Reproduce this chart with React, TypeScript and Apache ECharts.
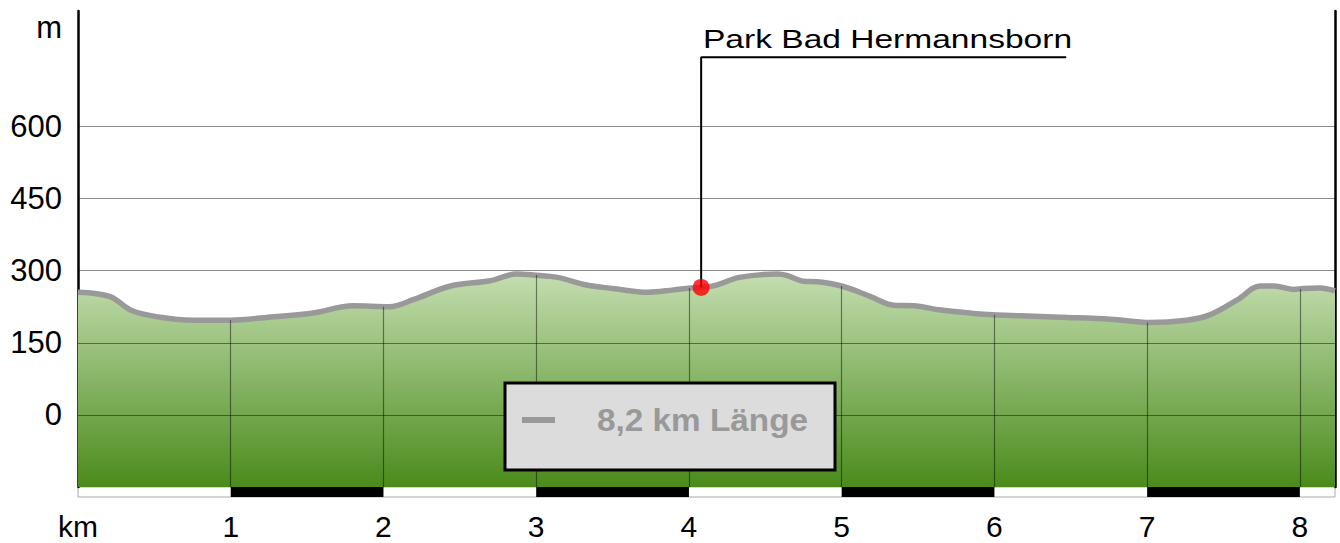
import { useEffect, useRef } from 'react';
import * as echarts from 'echarts';

// Elevation profile (km, metres)
const profileKm = [0, 0.21, 0.35, 0.54, 0.75, 1.0, 1.28, 1.54, 1.8, 2.04, 2.19, 2.44, 2.7, 2.87, 2.98, 3.14, 3.33, 3.5, 3.73, 3.9, 4.01, 4.08, 4.18, 4.33, 4.58, 4.64, 4.75, 4.84, 5.0, 5.19, 5.34, 5.47, 5.65, 5.86, 5.99, 6.17, 6.43, 6.76, 7.02, 7.26, 7.41, 7.59, 7.74, 7.83, 7.96, 8.02, 8.13, 8.23];
const profileElev = [255, 246, 217, 203, 197, 197, 204, 212, 227, 225, 239, 268, 279, 293, 291, 286, 270, 263, 255, 260, 264, 265, 270, 286, 293, 290, 278, 277, 268, 246, 228, 227, 218, 211, 208, 206, 203, 199, 192, 197, 208, 239, 268, 268, 261, 263, 264, 258];

// km marks and the elevation under each
const kmMarks = [1, 2, 3, 4, 5, 6, 7, 8];
const kmMarkElev = [197, 225, 291, 264, 268, 208, 192, 262];

// horizontal grid values
const yGridValues = [0, 150, 300, 450, 600];

// scale bar black segments
const stripSegments = [[1, 2], [3, 4], [5, 6], [7, 8]];

// point of interest
const poiName = 'Park Bad Hermannsborn';
const poiKm = 4.08;
const poiElev = 265;
const leaderTopElev = 744;
const leaderEndKm = 6.47;

const legendText = '8,2 km Länge';

const Y_MIN = -150;
const Y_MAX = 840;
const X_MAX = 8.23;
const FONT = '"Liberation Sans", Arial, sans-serif';

export default function App() {
  const ref = useRef<HTMLDivElement>(null);
  useEffect(() => {
    if (!ref.current) return;
    const chart = echarts.init(ref.current, undefined, { renderer: 'svg' });
    const profile = profileKm.map((k, i) => [k, profileElev[i]]);
    const gridLines: any[] = yGridValues.map((v) => ({ yAxis: v }));
    const vertLines: any[] = kmMarks.map((k, i) => [
      { coord: [k, Y_MIN] },
      { coord: [k, kmMarkElev[i]] },
    ]);
    chart.setOption({
      animation: false,
      textStyle: { fontFamily: FONT },
      grid: [
        { left: 78, right: 5, top: 11, bottom: 56 },
        { left: 78, right: 5, top: 487, height: 10, show: true, backgroundColor: '#fff', borderColor: '#aaa', borderWidth: 1 },
      ],
      xAxis: [
        { type: 'value', gridIndex: 0, min: 0, max: X_MAX, show: false },
        {
          type: 'value', gridIndex: 1, min: 0, max: X_MAX, interval: 1,
          axisLine: { show: false }, axisTick: { show: false }, splitLine: { show: false },
          axisLabel: {
            fontSize: 30, color: '#000', margin: 14, fontFamily: FONT,
            formatter: (v: number) => (v === 0 ? 'km' : Number.isInteger(v) ? String(v) : ''),
          },
        },
      ],
      yAxis: [
        {
          type: 'value', gridIndex: 0, position: 'left', min: Y_MIN, max: Y_MAX, interval: 150,
          axisLine: { show: true, lineStyle: { color: '#000', width: 2.5 } },
          axisTick: { show: false }, splitLine: { show: false },
          axisLabel: {
            fontSize: 31, color: '#000', margin: 16, fontFamily: FONT,
            formatter: (v: number) => (v >= 0 && v <= 600 ? String(v) : ''),
          },
        },
        {
          type: 'value', gridIndex: 0, position: 'right', min: Y_MIN, max: Y_MAX, interval: 150,
          axisLine: { show: true, lineStyle: { color: '#000', width: 2.5 } },
          axisTick: { show: false }, splitLine: { show: false }, axisLabel: { show: false },
        },
        { type: 'value', gridIndex: 1, min: 0, max: 1, show: false },
      ],
      series: [
        {
          type: 'line', xAxisIndex: 0, yAxisIndex: 0, data: profile, smooth: 0.35,
          showSymbol: false, silent: true, z: 1,
          lineStyle: { width: 0 },
          areaStyle: {
            origin: 'start', opacity: 1,
            color: new echarts.graphic.LinearGradient(0, 270, 0, 487, [
              { offset: 0, color: '#c6dfb3' },
              { offset: 1, color: '#4a8b1b' },
            ], true),
          },
        },
        {
          type: 'line', xAxisIndex: 0, yAxisIndex: 0, data: [], z: 2, silent: true,
          markLine: {
            silent: true, symbol: 'none', animation: false,
            label: { show: false },
            lineStyle: { color: 'rgba(0,0,0,0.45)', width: 1.2, type: 'solid' },
            data: [...gridLines, ...vertLines],
          },
        },
        {
          type: 'line', xAxisIndex: 0, yAxisIndex: 0, data: profile, smooth: 0.35,
          showSymbol: false, silent: true, z: 3,
          lineStyle: { color: '#999', width: 5.5 },
        },
        {
          type: 'line', xAxisIndex: 0, yAxisIndex: 0, z: 4, silent: true,
          showSymbol: false, symbol: 'none',
          lineStyle: { color: '#000', width: 2 },
          data: [[poiKm, poiElev], [poiKm, leaderTopElev], [leaderEndKm, leaderTopElev]],
        },
        {
          type: 'scatter', xAxisIndex: 0, yAxisIndex: 0, z: 5, silent: true,
          symbolSize: 17, itemStyle: { color: '#ff0000' },
          data: [[poiKm, poiElev]],
        },
        {
          type: 'custom', xAxisIndex: 1, yAxisIndex: 2, silent: true,
          encode: { x: [0, 1] },
          data: stripSegments,
          renderItem: (params: any, api: any) => {
            const p0 = api.coord([api.value(0), 1]);
            const p1 = api.coord([api.value(1), 0]);
            return {
              type: 'rect',
              shape: { x: p0[0], y: p0[1], width: p1[0] - p0[0], height: p1[1] - p0[1] },
              style: { fill: '#000' },
            };
          },
        },
      ],
      graphic: [
        {
          type: 'text', x: 62, y: 27,
          style: { text: 'm', fill: '#000', font: `31px ${FONT}`, align: 'right', verticalAlign: 'middle' },
        },
        {
          type: 'text', x: 703, y: 39, scaleX: 1.29,
          style: { text: poiName, fill: '#000', font: `26px ${FONT}`, align: 'left', verticalAlign: 'middle' },
        },
        {
          type: 'rect', shape: { x: 505, y: 383, width: 330, height: 87 },
          style: { fill: '#dcdcdc', stroke: '#000', lineWidth: 3 }, z: 100,
        },
        {
          type: 'line', shape: { x1: 522, y1: 420, x2: 555, y2: 420 },
          style: { stroke: '#999', lineWidth: 6 }, z: 101,
        },
        {
          type: 'text', x: 597, y: 420, z: 101, scaleX: 1.075,
          style: { text: legendText, fill: '#999', font: `bold 31px ${FONT}`, align: 'left', verticalAlign: 'middle' },
        },
      ],
    });
    return () => chart.dispose();
  }, []);
  return <div ref={ref} style={{ width: 1340, height: 543, position: 'absolute', left: 0, top: 0 }} />;
}
